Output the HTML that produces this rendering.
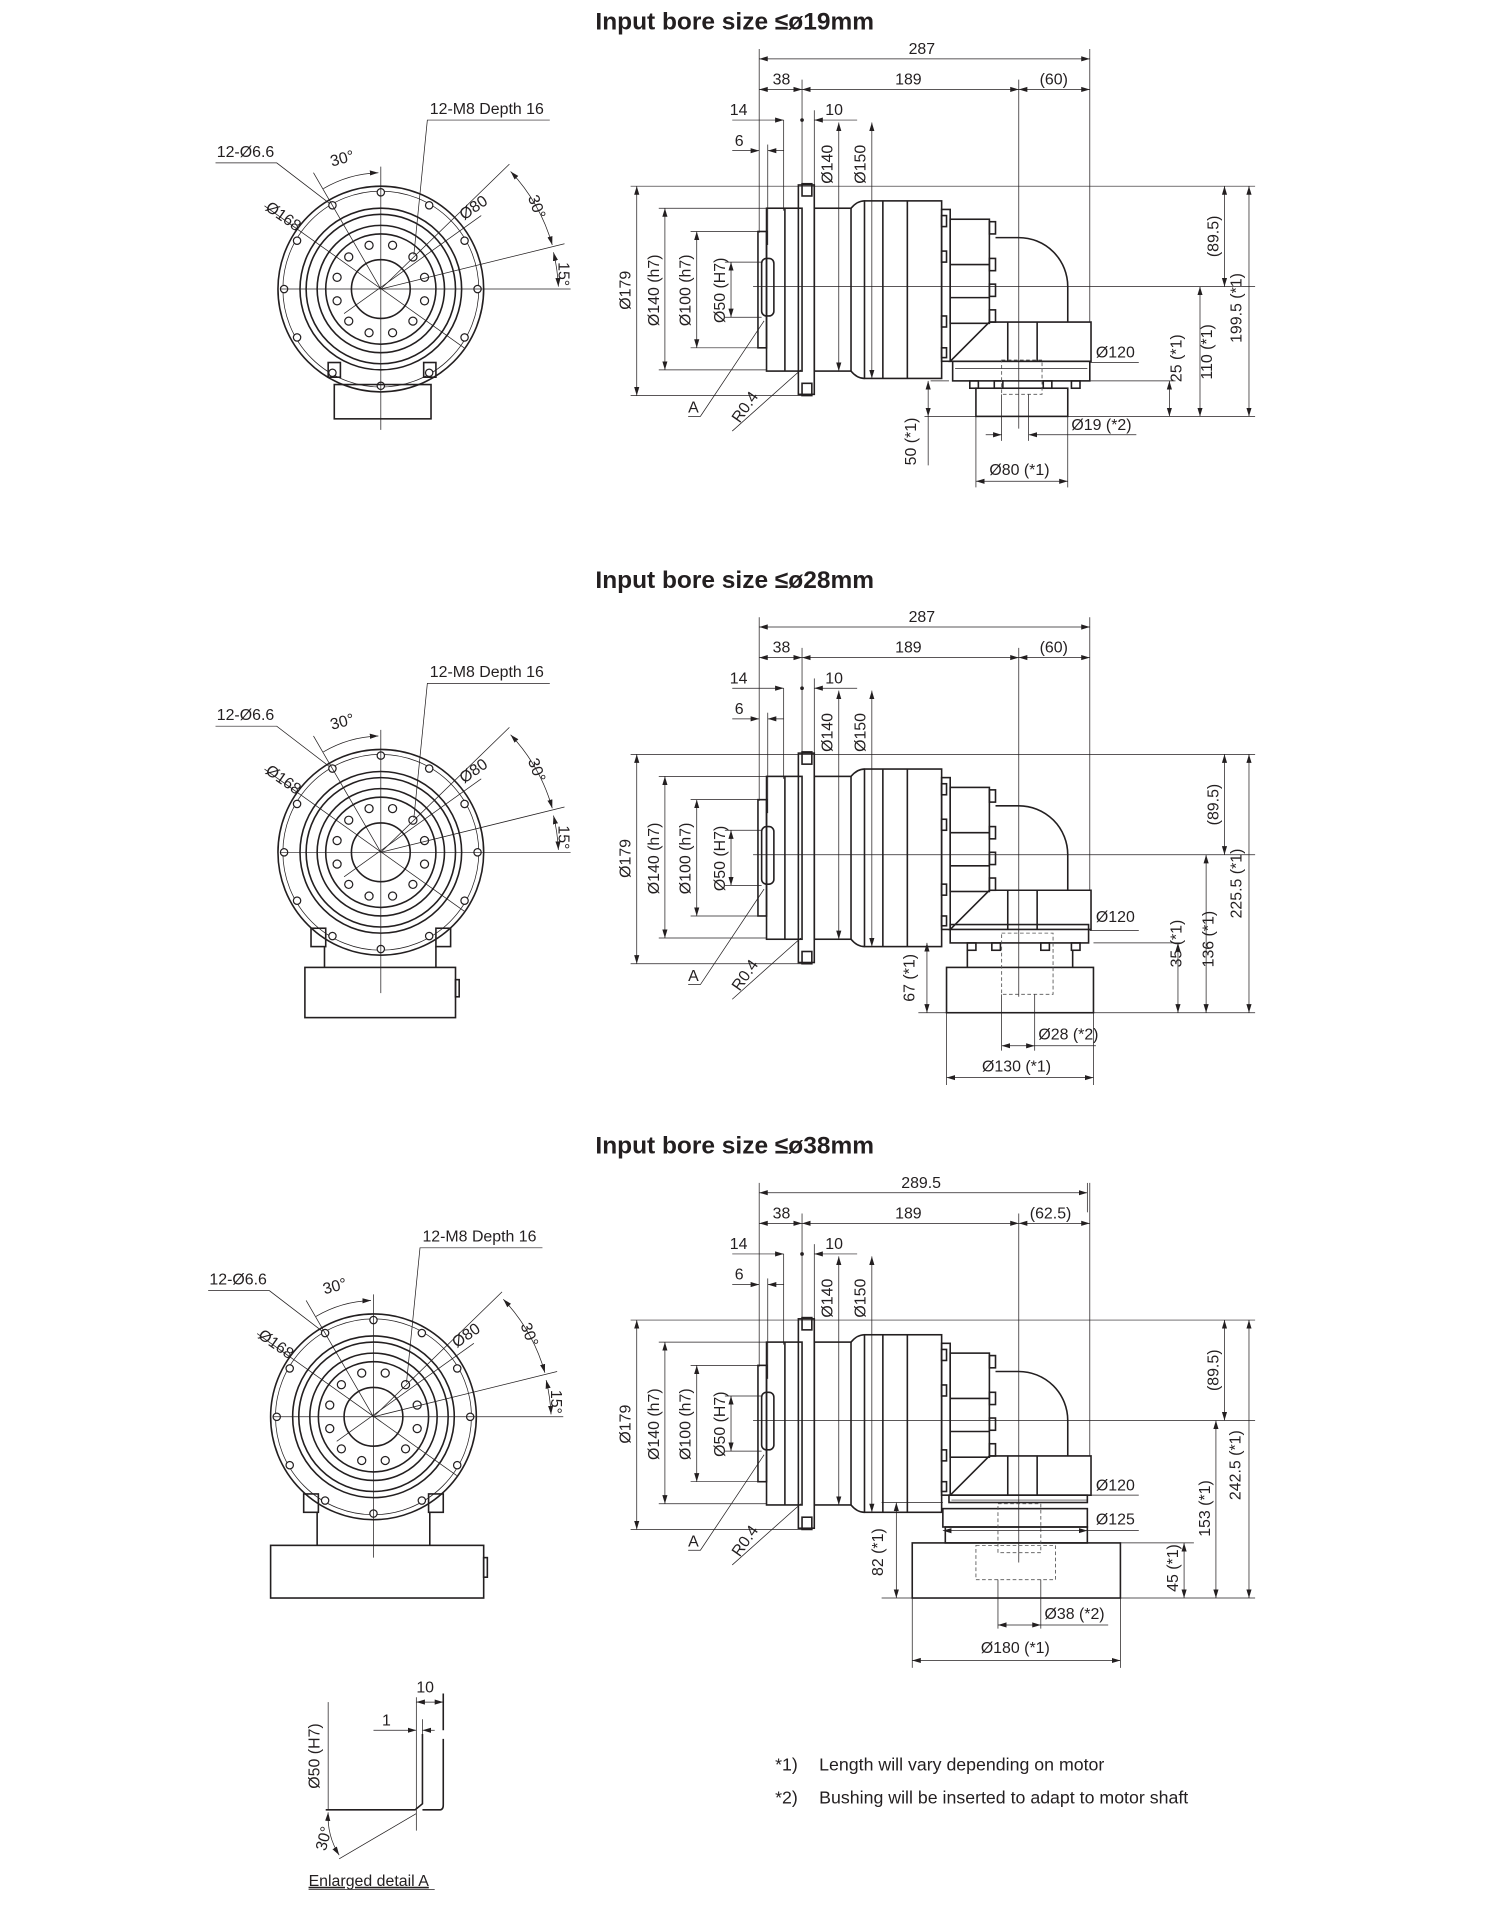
<!DOCTYPE html>
<html><head><meta charset="utf-8"><style>
html,body{margin:0;padding:0;background:#fff}
svg{display:block}
text{font-family:"Liberation Sans",sans-serif;font-size:13px;fill:#231f20}
.t{font-size:20px;font-weight:bold}
.o{fill:none;stroke:#231f20;stroke-width:1.3}
.d{fill:none;stroke:#231f20;stroke-width:0.6}
.a{fill:none;stroke:#231f20;stroke-width:0.6;marker-start:url(#ar);marker-end:url(#ar)}
.ae{fill:none;stroke:#231f20;stroke-width:0.6;marker-end:url(#ar)}
.h{fill:#fff;stroke:#231f20;stroke-width:1}
.ds{fill:none;stroke:#555;stroke-width:0.7;stroke-dasharray:3 2}
</style></head><body>
<svg width="1500" height="1914" viewBox="0 0 1225 1563" xmlns="http://www.w3.org/2000/svg">
<defs>
<marker id="ar" viewBox="0 0 10 10" refX="10" refY="5" markerWidth="7" markerHeight="7" orient="auto-start-reverse" markerUnits="userSpaceOnUse"><path d="M0,2 L10,5 L0,8 z" fill="#231f20"/></marker>
<g id="front">
<circle class="o" r="84"/><circle class="d" r="80"/><circle class="o" r="66"/><circle class="o" r="61"/><circle class="o" r="52"/><circle class="o" r="45"/><circle class="o" r="24"/>
<g class="h">
<circle cx="79" cy="0" r="3"/><circle cx="68.4" cy="39.5" r="3"/><circle cx="39.5" cy="68.4" r="3"/><circle cx="0" cy="79" r="3"/><circle cx="-39.5" cy="68.4" r="3"/><circle cx="-68.4" cy="39.5" r="3"/><circle cx="-79" cy="0" r="3"/><circle cx="-68.4" cy="-39.5" r="3"/><circle cx="-39.5" cy="-68.4" r="3"/><circle cx="0" cy="-79" r="3"/><circle cx="39.5" cy="-68.4" r="3"/><circle cx="68.4" cy="-39.5" r="3"/>
<circle cx="35.7" cy="9.6" r="3.3"/><circle cx="26.2" cy="26.2" r="3.3"/><circle cx="9.6" cy="35.7" r="3.3"/><circle cx="-9.6" cy="35.7" r="3.3"/><circle cx="-26.2" cy="26.2" r="3.3"/><circle cx="-35.7" cy="9.6" r="3.3"/><circle cx="-35.7" cy="-9.6" r="3.3"/><circle cx="-26.2" cy="-26.2" r="3.3"/><circle cx="-9.6" cy="-35.7" r="3.3"/><circle cx="9.6" cy="-35.7" r="3.3"/><circle cx="26.2" cy="-26.2" r="3.3"/><circle cx="35.7" cy="-9.6" r="3.3"/>
</g>
<line class="d" x1="-82" y1="0" x2="155" y2="0"/><line class="d" x1="0" y1="-100" x2="0" y2="115"/>
<line class="d" x1="0" y1="0" x2="-55" y2="-95"/>
<path class="ae" d="M-47,-82 A95,95 0 0 1 -2,-95"/>
<text x="-40" y="-100" transform="rotate(-15 -40 -100)">30°</text>
<line class="d" x1="0" y1="0" x2="105" y2="-102"/>
<line class="d" x1="0" y1="0" x2="150" y2="-37"/>
<path class="a" d="M106,-96 A145,145 0 0 1 140,-36"/>
<path class="a" d="M141,-30 A145,145 0 0 1 145,-2"/>
<text x="120" y="-75" transform="rotate(70 120 -75)">30°</text>
<text x="145" y="-22" transform="rotate(90 145 -22)">15°</text>
<line class="d" x1="-95" y1="-68" x2="68" y2="48"/>
<text x="-95" y="-65" transform="rotate(35 -95 -65)">Ø168</text>
<line class="d" x1="-30" y1="20" x2="82" y2="-60"/>
<text x="68" y="-56" transform="rotate(-35 68 -56)">Ø80</text>
<path class="d" d="M-135,-103 L-85,-103 L-42,-70"/>
<text x="-134" y="-108">12-Ø6.6</text>
<path class="d" d="M138,-138 L38,-138 L27,-28"/>
<text x="40" y="-143">12-M8 Depth 16</text>
</g>
<g id="side">
<line class="d" x1="620" y1="40" x2="620" y2="190"/><line class="d" x1="890" y1="40" x2="890" y2="263"/>
<line class="d" x1="832" y1="65" x2="832" y2="350"/><line class="d" x1="655" y1="65" x2="655" y2="150"/>
<line class="a" x1="655" y1="73" x2="832" y2="73"/><line class="a" x1="832" y1="73" x2="890" y2="73"/><line class="a" x1="620" y1="73" x2="655" y2="73"/>
<text x="631" y="69">38</text><text x="731" y="69">189</text>
<line class="ae" x1="598" y1="98" x2="640" y2="98"/><line class="ae" x1="700" y1="98" x2="665" y2="98"/><circle cx="655" cy="98" r="1.5" fill="#231f20"/>
<text x="596" y="94">14</text><text x="674" y="94">10</text>
<line class="d" x1="640" y1="98" x2="640" y2="172"/><line class="d" x1="665" y1="90" x2="665" y2="152"/>
<line class="ae" x1="598" y1="123" x2="620" y2="123"/><line class="ae" x1="640" y1="123" x2="627" y2="123"/>
<text x="600" y="119">6</text><line class="d" x1="627" y1="118" x2="627" y2="200"/>
<line class="a" x1="685" y1="100" x2="685" y2="303"/><line class="a" x1="712" y1="100" x2="712" y2="309"/>
<text x="680" y="150" transform="rotate(-90 680 150)">Ø140</text><text x="707" y="150" transform="rotate(-90 707 150)">Ø150</text>
<line class="d" x1="515" y1="152" x2="1025" y2="152"/><line class="d" x1="515" y1="323" x2="655" y2="323"/>
<line class="d" x1="538" y1="170" x2="626" y2="170"/><line class="d" x1="538" y1="302" x2="626" y2="302"/>
<line class="d" x1="564" y1="189" x2="619" y2="189"/><line class="d" x1="564" y1="284" x2="619" y2="284"/>
<line class="d" x1="592" y1="214" x2="622" y2="214"/><line class="d" x1="592" y1="259" x2="622" y2="259"/>
<line class="a" x1="520" y1="152" x2="520" y2="323"/><line class="a" x1="543" y1="170" x2="543" y2="302"/>
<line class="a" x1="569" y1="189" x2="569" y2="284"/><line class="a" x1="597" y1="214" x2="597" y2="259"/>
<text x="515" y="237" text-anchor="middle" transform="rotate(-90 515 237)">Ø179</text>
<text x="538" y="237" text-anchor="middle" transform="rotate(-90 538 237)">Ø140 (h7)</text>
<text x="564" y="237" text-anchor="middle" transform="rotate(-90 564 237)">Ø100 (h7)</text>
<text x="592" y="237" text-anchor="middle" transform="rotate(-90 592 237)">Ø50 (H7)</text>
<line class="d" x1="615" y1="234" x2="1025" y2="234"/>
<path class="d" d="M624,262 L572,340 L562,340"/><text x="562" y="337">A</text>
<path class="d" d="M654,302 L598,352"/><text x="604" y="346" transform="rotate(-55 604 346)">R0.4</text>
<line class="a" x1="1000" y1="152" x2="1000" y2="234"/>
<text x="995" y="193" text-anchor="middle" transform="rotate(-90 995 193)">(89.5)</text>
<rect class="o" x="619" y="189" width="7" height="95"/>
<rect class="o" x="622" y="211" width="10" height="47" rx="4"/>
<rect class="o" x="626" y="170" width="29" height="133"/><line class="o" x1="641" y1="170" x2="641" y2="303"/>
<rect class="o" x="652" y="151" width="13" height="171"/>
<rect class="o" x="655" y="150" width="8" height="10"/><rect class="o" x="655" y="313" width="8" height="10"/>
<rect class="o" x="665" y="170" width="30" height="133"/>
<path class="o" d="M695,170 Q700,164 706,164 M695,303 Q700,309 706,309"/>
<rect class="o" x="706" y="164" width="63" height="145"/><line class="o" x1="721" y1="164" x2="721" y2="309"/><line class="o" x1="741" y1="164" x2="741" y2="309"/>
<rect class="o" x="769" y="171" width="7" height="124"/>
<rect class="o" x="769" y="176" width="4" height="9"/><rect class="o" x="769" y="205" width="4" height="9"/><rect class="o" x="769" y="258" width="4" height="9"/><rect class="o" x="769" y="284" width="4" height="8"/>
<rect class="o" x="776" y="179" width="32" height="85"/><line class="o" x1="776" y1="216" x2="808" y2="216"/><line class="o" x1="776" y1="243" x2="808" y2="243"/>
<rect class="o" x="808" y="181" width="5" height="10"/><rect class="o" x="808" y="211" width="5" height="10"/><rect class="o" x="808" y="232" width="5" height="10"/><rect class="o" x="808" y="253" width="5" height="10"/>
<path class="o" d="M813,194 L832,194 A40,40 0 0 1 872,234 L872,263"/>
<path class="o" d="M776,295 L808,263 L891,263 L891,295 Z"/><line class="o" x1="823" y1="263" x2="823" y2="295"/><line class="o" x1="847" y1="263" x2="847" y2="295"/>
</g>
</defs>

<text class="t" x="600" y="24" text-anchor="middle">Input bore size ≤ø19mm</text>
<text class="t" x="600" y="480" text-anchor="middle">Input bore size ≤ø28mm</text>
<text class="t" x="600" y="942" text-anchor="middle">Input bore size ≤ø38mm</text>

<!-- front views -->
<use href="#front" x="311" y="236"/>
<rect class="o" x="268" y="296" width="10" height="12"/><rect class="o" x="346" y="296" width="10" height="12"/>
<rect class="o" x="273" y="314" width="79" height="28"/>
<use href="#front" x="311" y="696"/>
<rect class="o" x="254" y="758" width="12" height="15"/><rect class="o" x="356" y="758" width="12" height="15"/>
<line class="o" x1="265" y1="773" x2="265" y2="790"/><line class="o" x1="356" y1="773" x2="356" y2="790"/>
<rect class="o" x="249" y="790" width="123" height="41"/><rect class="o" x="372" y="800" width="3" height="14"/>
<use href="#front" x="305" y="1157"/>
<rect class="o" x="248" y="1220" width="12" height="15"/><rect class="o" x="350" y="1220" width="12" height="15"/>
<line class="o" x1="259" y1="1235" x2="259" y2="1262"/><line class="o" x1="351" y1="1235" x2="351" y2="1262"/>
<rect class="o" x="221" y="1262" width="174" height="43"/><rect class="o" x="395" y="1272" width="3" height="16"/>

<!-- section 1 side -->
<use href="#side"/>
<line class="a" x1="620" y1="48" x2="890" y2="48"/><text x="742" y="44">287</text><text x="849" y="69">(60)</text>
<rect class="o" x="778" y="295" width="112" height="16"/><line class="d" x1="780" y1="301" x2="888" y2="301"/>
<rect class="o" x="792" y="311" width="7" height="6"/><rect class="o" x="812" y="311" width="7" height="6"/><rect class="o" x="852" y="311" width="7" height="6"/><rect class="o" x="875" y="311" width="7" height="6"/>
<rect class="o" x="797" y="317" width="75" height="23"/><rect class="ds" x="818" y="294" width="33" height="28"/>
<line class="d" x1="890" y1="296" x2="930" y2="296"/><text x="895" y="292">Ø120</text>
<line class="d" x1="760" y1="311" x2="775" y2="311"/><line class="d" x1="872" y1="311" x2="960" y2="311"/>
<line class="d" x1="755" y1="340" x2="1025" y2="340"/>
<line class="a" x1="955" y1="311" x2="955" y2="340"/><text x="965" y="312" transform="rotate(-90 965 312)">25 (*1)</text>
<line class="a" x1="980" y1="234" x2="980" y2="340"/><text x="990" y="310" transform="rotate(-90 990 310)">110 (*1)</text>
<line class="a" x1="1020" y1="152" x2="1020" y2="340"/><text x="1014" y="280" transform="rotate(-90 1014 280)">199.5 (*1)</text>
<line class="a" x1="758" y1="311" x2="758" y2="340"/><line class="d" x1="758" y1="340" x2="758" y2="380"/>
<text x="748" y="380" transform="rotate(-90 748 380)">50 (*1)</text>
<line class="d" x1="818" y1="322" x2="818" y2="360"/><line class="d" x1="840" y1="322" x2="840" y2="360"/>
<line class="ae" x1="805" y1="355" x2="818" y2="355"/><line class="ae" x1="928" y1="355" x2="840" y2="355"/><text x="875" y="351">Ø19 (*2)</text>
<line class="d" x1="797" y1="340" x2="797" y2="398"/><line class="d" x1="872" y1="340" x2="872" y2="398"/>
<line class="a" x1="797" y1="393" x2="872" y2="393"/><text x="808" y="388">Ø80 (*1)</text>

<!-- section 2 side -->
<use href="#side" y="464"/>
<line class="a" x1="620" y1="512" x2="890" y2="512"/><text x="742" y="508">287</text><text x="849" y="533">(60)</text>
<rect class="o" x="776" y="755" width="113" height="15"/>
<rect class="o" x="790" y="770" width="7" height="6"/><rect class="o" x="810" y="770" width="7" height="6"/><rect class="o" x="850" y="770" width="7" height="6"/><rect class="o" x="875" y="770" width="7" height="6"/>
<rect class="o" x="773" y="790" width="120" height="37"/><line class="o" x1="790" y1="776" x2="790" y2="790"/><line class="o" x1="876" y1="776" x2="876" y2="790"/>
<rect class="ds" x="818" y="762" width="42" height="50"/>
<line class="d" x1="890" y1="760" x2="930" y2="760"/><text x="895" y="753">Ø120</text>
<line class="d" x1="893" y1="770" x2="965" y2="770"/><line class="d" x1="750" y1="827" x2="1025" y2="827"/>
<line class="a" x1="962" y1="770" x2="962" y2="827"/><text x="965" y="790" transform="rotate(-90 965 790)">35 (*1)</text>
<line class="a" x1="985" y1="698" x2="985" y2="827"/><text x="991" y="790" transform="rotate(-90 991 790)">136 (*1)</text>
<line class="a" x1="1020" y1="616" x2="1020" y2="827"/><text x="1014" y="750" transform="rotate(-90 1014 750)">225.5 (*1)</text>
<line class="a" x1="757" y1="770" x2="757" y2="827"/><text x="747" y="818" transform="rotate(-90 747 818)">67 (*1)</text>
<line class="d" x1="818" y1="812" x2="818" y2="858"/><line class="d" x1="845" y1="812" x2="845" y2="858"/>
<line class="a" x1="818" y1="854" x2="845" y2="854"/><line class="d" x1="845" y1="854" x2="895" y2="854"/><text x="848" y="849">Ø28 (*2)</text>
<line class="d" x1="773" y1="827" x2="773" y2="886"/><line class="d" x1="893" y1="827" x2="893" y2="886"/>
<line class="a" x1="773" y1="880" x2="893" y2="880"/><text x="802" y="875">Ø130 (*1)</text>

<!-- section 3 side -->
<use href="#side" y="926"/>
<line class="d" x1="888" y1="966" x2="888" y2="990"/>
<line class="a" x1="620" y1="974" x2="888" y2="974"/><text x="736" y="970">289.5</text><text x="841" y="995">(62.5)</text>
<rect class="o" x="775" y="1221" width="113" height="6"/>
<line class="d" x1="777" y1="1225" x2="888" y2="1225"/>
<rect class="o" x="770" y="1232" width="118" height="15"/><rect class="o" x="772" y="1247" width="116" height="13" fill="none"/>
<rect class="o" x="745" y="1260" width="170" height="45"/>
<rect class="ds" x="797" y="1262" width="65" height="28"/><rect class="ds" x="815" y="1228" width="35" height="40"/>
<line class="d" x1="888" y1="1221" x2="930" y2="1221"/><text x="895" y="1217">Ø120</text>
<line class="a" x1="770" y1="1250" x2="888" y2="1250"/><line class="d" x1="888" y1="1250" x2="930" y2="1250"/><text x="895" y="1245">Ø125</text>
<line class="d" x1="915" y1="1260" x2="975" y2="1260"/><line class="d" x1="720" y1="1305" x2="1025" y2="1305"/>
<line class="d" x1="720" y1="1227" x2="770" y2="1227"/>
<line class="a" x1="967" y1="1260" x2="967" y2="1305"/><text x="962" y="1300" transform="rotate(-90 962 1300)">45 (*1)</text>
<line class="a" x1="993" y1="1160" x2="993" y2="1305"/><text x="988" y="1255" transform="rotate(-90 988 1255)">153 (*1)</text>
<line class="a" x1="1020" y1="1078" x2="1020" y2="1305"/><text x="1013" y="1225" transform="rotate(-90 1013 1225)">242.5 (*1)</text>
<line class="a" x1="732" y1="1227" x2="732" y2="1305"/><text x="721" y="1287" transform="rotate(-90 721 1287)">82 (*1)</text>
<line class="d" x1="815" y1="1290" x2="815" y2="1330"/><line class="d" x1="850" y1="1290" x2="850" y2="1330"/>
<line class="a" x1="815" y1="1327" x2="850" y2="1327"/><line class="d" x1="850" y1="1327" x2="905" y2="1327"/><text x="853" y="1322">Ø38 (*2)</text>
<line class="d" x1="745" y1="1305" x2="745" y2="1362"/><line class="d" x1="915" y1="1305" x2="915" y2="1362"/>
<line class="a" x1="745" y1="1356" x2="915" y2="1356"/><text x="801" y="1350">Ø180 (*1)</text>

<!-- detail A -->
<line class="d" x1="268" y1="1390" x2="268" y2="1478"/>
<text x="261" y="1434" text-anchor="middle" transform="rotate(-90 261 1434)">Ø50 (H7)</text>
<path class="o" d="M266,1478 L339,1478 L345,1473 L345,1416 M345,1478 L359,1478 Q362,1478 362,1474 L362,1420 M362,1413 L362,1383"/>
<line class="d" x1="340" y1="1386" x2="340" y2="1495"/>
<line class="a" x1="340" y1="1390" x2="362" y2="1390"/><text x="340" y="1382">10</text>
<line class="ae" x1="305" y1="1413" x2="340" y2="1413"/><line class="ae" x1="355" y1="1413" x2="345" y2="1413"/><line class="d" x1="345" y1="1404" x2="345" y2="1416"/>
<text x="312" y="1409">1</text>
<line class="d" x1="340" y1="1481" x2="277" y2="1518"/>
<path class="a" d="M268,1480 A60,60 0 0 0 277,1515"/>
<text x="266" y="1512" transform="rotate(-75 266 1512)">30°</text>
<text x="252" y="1540" style="font-size:13px;text-decoration:underline">Enlarged detail A</text>
<line class="d" x1="252" y1="1543" x2="355" y2="1543"/>

<text x="633" y="1446" style="font-size:14.5px">*1)</text><text x="669" y="1446" style="font-size:14.5px">Length will vary depending on motor</text>
<text x="633" y="1473" style="font-size:14.5px">*2)</text><text x="669" y="1473" style="font-size:14.5px">Bushing will be inserted to adapt to motor shaft</text>
</svg>
</body></html>
